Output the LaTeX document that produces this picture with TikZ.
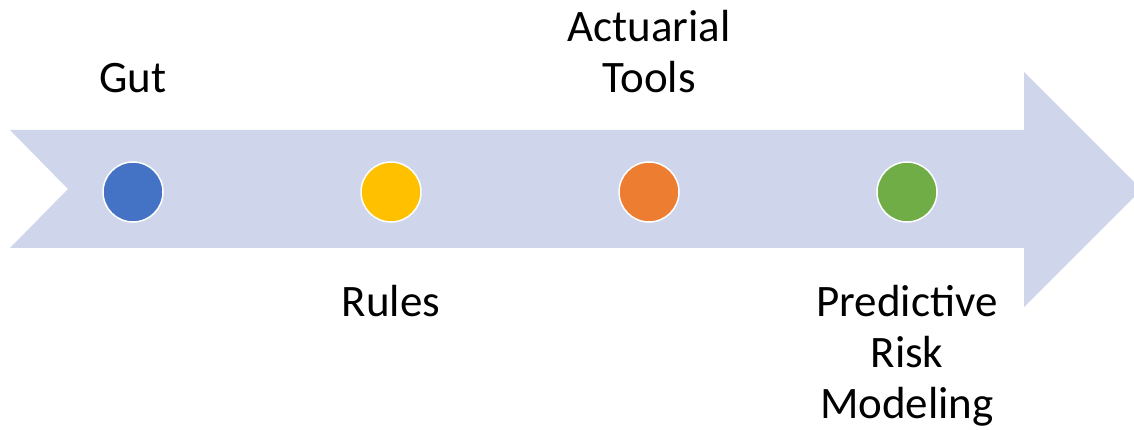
\documentclass[tikz,border=0pt]{standalone}
\usepackage{fontspec}
\setmainfont{Carlito}
\definecolor{band}{HTML}{CFD5EA}
\definecolor{dotblue}{HTML}{4472C4}
\definecolor{dotyellow}{HTML}{FFC000}
\definecolor{dotorange}{HTML}{ED7D31}
\definecolor{dotgreen}{HTML}{70AD47}
\tikzset{
  dot/.style={circle, draw=white, line width=1.5pt, minimum size=60pt, inner sep=0pt},
  stage/.style={align=center, inner sep=0pt, anchor=base, font=\fontsize{45}{51}\selectfont, text=black}
}
\begin{document}
\begin{tikzpicture}[x=1pt, y=-1pt]
  \useasboundingbox (0,0) rectangle (1134,430);
  \clip (0,0) rectangle (1134,430);
  % timeline arrow with notched tail
  \fill[band] (10,130) -- (1024,130) -- (1024,72) -- (1141.5,189.5)
    -- (1024,307) -- (1024,248) -- (10,248) -- (68,189) -- cycle;
  % milestones
  \node[dot, fill=dotblue]   (gut)   at (133,192) {};
  \node[dot, fill=dotyellow] (rules) at (391,192) {};
  \node[dot, fill=dotorange] (act)   at (649,192) {};
  \node[dot, fill=dotgreen]  (prm)   at (907,192) {};
  % labels (base anchor sits on the last line's baseline)
  \node[stage] (gutlbl)   at (133,93)  {Gut};
  \node[stage] (actlbl)   at (649,93)  {Actuarial\\Tools};
  \node[stage] (ruleslbl) at (391,316) {Rules};
  \node[stage] (prmlbl)   at (907,418) {Predictive\\Risk\\Modeling};
\end{tikzpicture}
\end{document}
